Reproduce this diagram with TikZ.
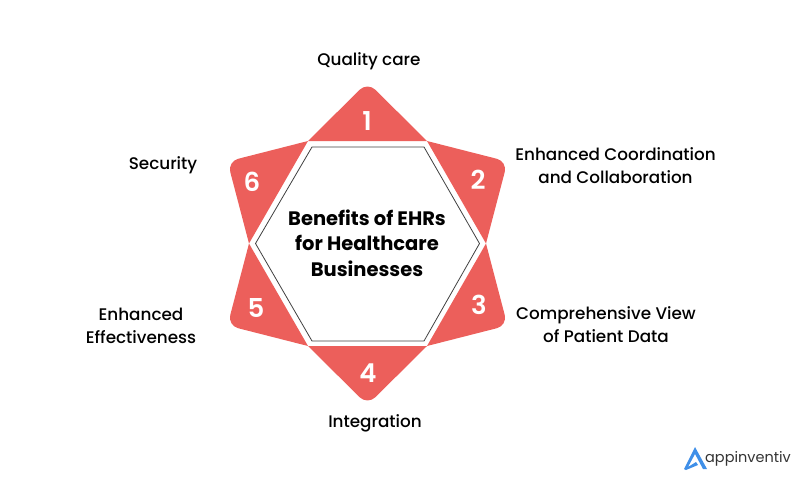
\documentclass[tikz,border=0pt]{standalone}
\usepackage{fontspec}
\setmainfont{Poppins}
\newfontfamily\labelfont{Poppins Medium}
\newfontfamily\digitfont{Poppins SemiBold}
\usepackage{tikz}
\definecolor{petalred}{HTML}{EC5F5B}
\definecolor{logoblue}{HTML}{3F8FE8}

\begin{document}
\begin{tikzpicture}[x=1pt,y=-1pt]
\useasboundingbox (0,0) rectangle (801,482);

% hexagon corners and star tips
\coordinate (H1) at (308,141);
\coordinate (H2) at (427,141);
\coordinate (H3) at (486,243.5);
\coordinate (H4) at (427,346);
\coordinate (H5) at (308,346);
\coordinate (H6) at (249,243.5);
\coordinate (T1) at (367.5,82);
\coordinate (T2) at (507.5,161.5);
\coordinate (T3) at (507.5,325.5);
\coordinate (T4) at (367.5,405);
\coordinate (T5) at (227.5,325.5);
\coordinate (T6) at (227.5,161.5);

\fill[petalred] (H1) [rounded corners=11pt] -- (T1) [sharp corners] -- (H2) -- cycle;
\fill[petalred] (H2) [rounded corners=11pt] -- (T2) [sharp corners] -- (H3) -- cycle;
\fill[petalred] (H3) [rounded corners=11pt] -- (T3) [sharp corners] -- (H4) -- cycle;
\fill[petalred] (H4) [rounded corners=11pt] -- (T4) [sharp corners] -- (H5) -- cycle;
\fill[petalred] (H5) [rounded corners=11pt] -- (T5) [sharp corners] -- (H6) -- cycle;
\fill[petalred] (H6) [rounded corners=11pt] -- (T6) [sharp corners] -- (H1) -- cycle;

% inner hexagon
\draw[line width=0.8pt,draw=black!75] (312,147) -- (424,147) -- (479.5,243.5) -- (424,341) -- (312,341) -- (255.5,243.5) -- cycle;

\begin{scope}[every node/.style={white,font=\digitfont\fontsize{26}{26}\selectfont,inner sep=0pt}]
    \node (N1) at (367,121) {1};
    \node (N2) at (478,180) {2};
    \node (N3) at (479,305) {3};
    \node (N4) at (368,373) {4};
    \node (N5) at (256,308) {5};
    \node (N6) at (252,182) {6};
\end{scope}

\begin{scope}[every node/.style={black,align=center,inner sep=0pt,font=\labelfont\fontsize{16.8}{23}\selectfont}]
    \node (quality) at (369,61.5) {Quality care};
    \node (coord) at (615.5,165.5) {Enhanced Coordination\\and Collaboration};
    \node (view) at (606,324.5) {Comprehensive View\\of Patient Data};
    \node (integ) at (375,423.5) {Integration};
    \node (effect) at (141,325.5) {Enhanced\\Effectiveness};
    \node (secur) at (163,165.5) {Security};
    \node (title) at (367,243) [align=center,font=\fontsize{19.5}{25.5}\selectfont\bfseries] {Benefits of EHRs\\for Healthcare\\Businesses};
\end{scope}

% logo
\fill[logoblue,even odd rule] (695,447) -- (707,469) -- (703,469) -- (695,454) -- (688,467) -- (696,462) -- (698,465) -- (686,470) -- (684,469) -- cycle;
\node (logo) at (748,459) [inner sep=0pt,black!80,font=\fontsize{14.5}{16}\selectfont] {appinventiv};
\end{tikzpicture}
\end{document}
